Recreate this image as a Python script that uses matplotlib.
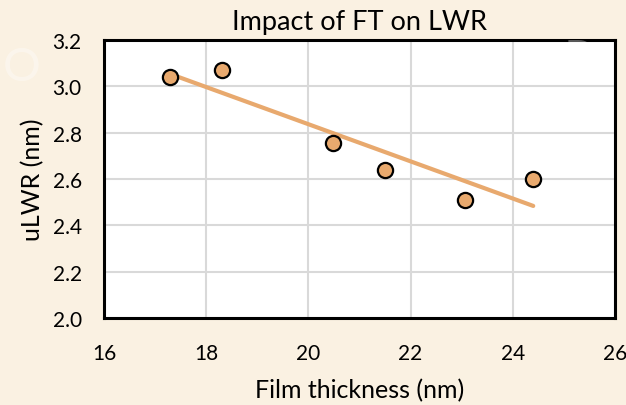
import numpy as np
import matplotlib
matplotlib.use("Agg")
import matplotlib.pyplot as plt

# film thickness (nm) vs unbiased LWR (nm)
film_thickness = [17.29, 18.31, 20.48, 21.50, 23.06, 24.40]
ulwr = [3.04, 3.07, 2.755, 2.64, 2.51, 2.60]

x_ticks = [16, 18, 20, 22, 24, 26]
y_ticks = [2.0, 2.2, 2.4, 2.6, 2.8, 3.0, 3.2]

bg = "#FAF1E2"
orange = "#E8A96E"

plt.rcParams['font.family'] = ['Lato', 'DejaVu Sans']

fig = plt.figure(figsize=(6.26, 4.06), dpi=100, facecolor=bg)
ax = fig.add_axes([104 / 626, 1 - 319 / 406, (615 - 104) / 626, (319 - 41) / 406])

# very faint watermark of the slide background, kept clear of the texts
wm = dict(color="white", alpha=0.35, transform=fig.transFigure, zorder=0)
fig.text(0.005, 0.80, "O", fontsize=34, **wm)
fig.text(0.90, 0.82, "P", fontsize=34, **wm)

ax.set_facecolor("white")
ax.set_xlim(16, 26)
ax.set_ylim(2.0, 3.2)
ax.set_xticks(x_ticks)
ax.set_yticks(y_ticks)
ax.set_yticklabels([f"{v:.1f}" for v in y_ticks])
ax.grid(True, color="#D9D9D9", linewidth=1.5)
ax.set_axisbelow(True)
ax.tick_params(axis="x", length=0, labelsize=15, pad=18)
ax.tick_params(axis="y", length=0, labelsize=15, pad=16)
for s in ax.spines.values():
    s.set_linewidth(2.2)
    s.set_color("black")

# linear trendline
k, b = np.polyfit(film_thickness, ulwr, 1)
xs = np.array([min(film_thickness), max(film_thickness)])
ax.plot(xs, k * xs + b, color=orange, linewidth=3, solid_capstyle="round", zorder=2)

ax.scatter(film_thickness, ulwr, s=120, facecolor=orange, edgecolor="black",
           linewidth=1.6, zorder=3, clip_on=False)

ax.set_title("Impact of FT on LWR", fontsize=19.5, pad=8)
ax.set_xlabel("Film thickness (nm)", fontsize=18, labelpad=11)
ax.set_ylabel("uLWR (nm)", fontsize=18, labelpad=6)

fig.savefig("out.png", dpi=100, facecolor=bg)
